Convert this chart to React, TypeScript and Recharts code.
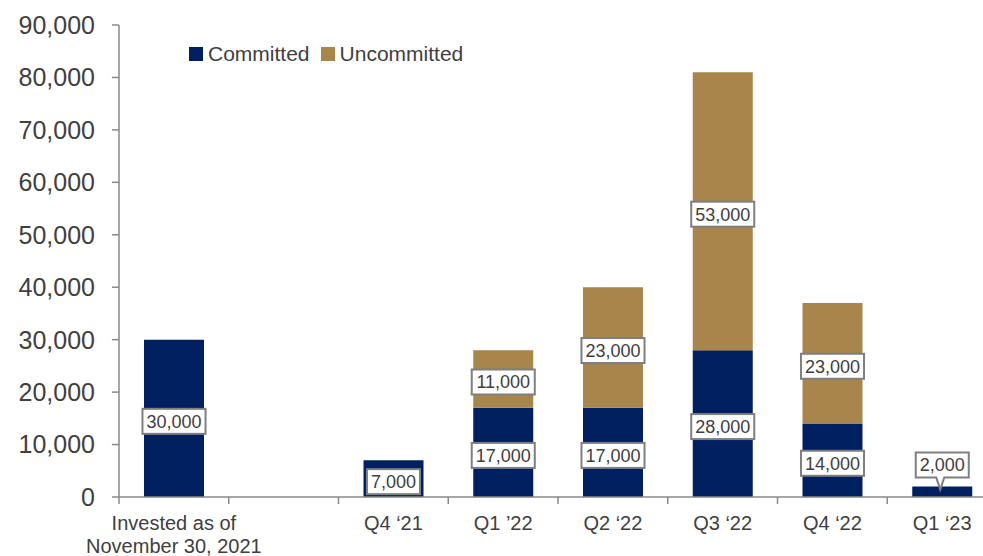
import { BarChart, Bar, XAxis, YAxis, LabelList } from 'recharts'

const categories = ['Invested as of|November 30, 2021', ' ', 'Q4 \u201821', 'Q1 \u201922', 'Q2 \u201822', 'Q3 \u201822', 'Q4 \u201822', 'Q1 \u201823']
const committed = [30000, null, 7000, 17000, 17000, 28000, 14000, 2000]
const uncommitted = [null, null, null, 11000, 23000, 53000, 23000, null]
const yTicks = [0, 10000, 20000, 30000, 40000, 50000, 60000, 70000, 80000, 90000]
const seriesNames = ['Committed', 'Uncommitted']

const NAVY = '#002060'
const GOLD = '#A8854A'
const TEXT = '#404040'
const AXIS = '#898989'
const FONT = '"Liberation Sans", Arial, sans-serif'

const CHART_W = 1010
const CHART_H = 556
const MARGIN = { top: 25, right: 13, bottom: 9, left: 0 }
const Y_AXIS_W = 119
const BAND = (CHART_W - MARGIN.left - MARGIN.right - Y_AXIS_W) / categories.length

const data = categories.map((name, i) => ({
  name,
  committed: committed[i],
  uncommitted: uncommitted[i]
}))

// rough width of a number label in Liberation Sans
function textWidth(s: string, size: number) {
  let w = 0
  for (const c of s) w += c === ',' ? 0.278 : 0.556
  return w * size
}

function BoxLabel(props: any) {
  const { x, y, width, height, value } = props
  if (value == null || value === 0) return null
  const text = Number(value).toLocaleString('en-US')
  const w = textWidth(text, 18) + 8
  const h = 25
  const cx = x + width / 2

  // too small to hold the label: put a callout above the bar
  if (height < 30) {
    const bottom = y - 9
    const top = bottom - h
    return (
      <g>
        <path
          d={`M${cx - w / 2},${top} H${cx + w / 2} V${bottom} H${cx + 2} L${cx - 2},${y + 3} L${cx - 6},${bottom} H${cx - w / 2} Z`}
          fill="#fff"
          stroke="#7f7f7f"
          strokeWidth={2}
        />
        <text x={cx} y={top + h / 2} dy="0.36em" textAnchor="middle" fontSize={18} fill={TEXT} fontFamily={FONT}>
          {text}
        </text>
      </g>
    )
  }

  // labels sit a touch below the middle of each segment
  const cy = y + height / 2 + 3
  return (
    <g>
      <rect x={cx - w / 2} y={cy - h / 2} width={w} height={h} fill="#fff" stroke="#7f7f7f" strokeWidth={2} />
      <text x={cx} y={cy} dy="0.36em" textAnchor="middle" fontSize={18} fill={TEXT} fontFamily={FONT}>
        {text}
      </text>
    </g>
  )
}

// category labels, plus tick marks on the boundaries between categories
function CategoryTick(props: any) {
  const { x, y, payload } = props
  const lines = String(payload.value).trim().split('|')
  const left = x - BAND / 2
  return (
    <g>
      <line x1={left} x2={left} y1={y} y2={y + 7} stroke={AXIS} strokeWidth={1.5} />
      <text textAnchor="middle" fontSize={20} fill={TEXT} fontFamily={FONT}>
        {lines.map((l, i) => (
          <tspan key={i} x={x} y={y + 33 + i * 23}>{l}</tspan>
        ))}
      </text>
    </g>
  )
}

export default function App() {
  return (
    <div style={{ position: 'absolute', left: 0, top: 0, width: 983, height: 556, overflow: 'hidden', background: '#fff' }}>
      {/* legend drawn in html so it doesn't push the plot area */}
      <div style={{ position: 'absolute', left: 189, top: 42, display: 'flex', alignItems: 'center', fontFamily: FONT, fontSize: 21, color: TEXT, zIndex: 1 }}>
        {seriesNames.map((n, i) => (
          <span key={n} style={{ display: 'flex', alignItems: 'center', marginRight: 11 }}>
            <span style={{ width: 14, height: 14, background: i === 0 ? NAVY : GOLD, marginRight: 5, display: 'inline-block' }} />
            {n}
          </span>
        ))}
      </div>
      <BarChart width={CHART_W} height={CHART_H} data={data} margin={MARGIN}>
        <XAxis
          dataKey="name"
          height={50}
          tickLine={false}
          tickSize={0}
          tickMargin={0}
          interval={0}
          stroke={AXIS}
          strokeWidth={1.5}
          tick={<CategoryTick />}
        />
        <YAxis
          width={Y_AXIS_W}
          domain={[0, 90000]}
          ticks={yTicks}
          interval={0}
          tickSize={7}
          tickMargin={17}
          stroke={AXIS}
          strokeWidth={1.5}
          tick={{ fontSize: 25, fill: TEXT, fontFamily: FONT }}
          tickFormatter={(v) => Number(v).toLocaleString('en-US')}
        />
        <Bar dataKey="committed" name="Committed" stackId="a" fill={NAVY} barSize={60} isAnimationActive={false}>
          <LabelList dataKey="committed" content={<BoxLabel />} />
        </Bar>
        <Bar dataKey="uncommitted" name="Uncommitted" stackId="a" fill={GOLD} barSize={60} isAnimationActive={false}>
          <LabelList dataKey="uncommitted" content={<BoxLabel />} />
        </Bar>
      </BarChart>
    </div>
  )
}
